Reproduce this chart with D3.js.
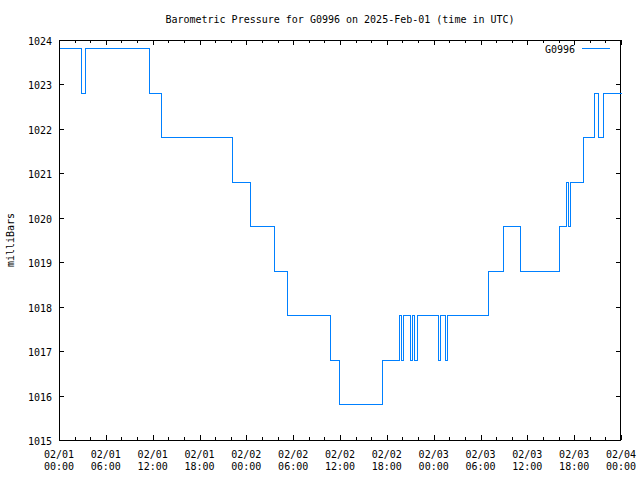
<!DOCTYPE html>
<html><head><meta charset="utf-8">
<script src="https://cdn.jsdelivr.net/npm/d3@7"></script>
<style>
body{margin:0;background:#fff;}
text{font-family:"DejaVu Sans Mono",monospace;font-size:10px;fill:#000;}
</style></head>
<body><svg id="c" width="640" height="480"></svg>
<script>
const times = ["2025-02-01T00:00","2025-02-01T02:50","2025-02-01T03:20","2025-02-01T11:35","2025-02-01T13:05",
"2025-02-01T22:10","2025-02-02T00:25","2025-02-02T03:30","2025-02-02T05:10","2025-02-02T10:45","2025-02-02T11:55",
"2025-02-02T17:25","2025-02-02T19:35","2025-02-02T19:50","2025-02-02T20:05","2025-02-02T21:00","2025-02-02T21:15",
"2025-02-02T21:25","2025-02-02T21:55","2025-02-03T00:30","2025-02-03T00:50","2025-02-03T01:30","2025-02-03T01:45",
"2025-02-03T07:00","2025-02-03T08:55","2025-02-03T11:00","2025-02-03T16:00","2025-02-03T17:00","2025-02-03T17:15",
"2025-02-03T17:30","2025-02-03T19:10","2025-02-03T20:30","2025-02-03T21:00","2025-02-03T21:45","2025-02-04T00:00"];
const pressure = [1023.8,1022.8,1023.8,1022.8,1021.8,
1020.8,1019.8,1018.8,1017.8,1016.8,1015.8,
1016.8,1017.8,1016.8,1017.8,1016.8,1017.8,
1016.8,1017.8,1016.8,1017.8,1016.8,1017.8,
1018.8,1019.8,1018.8,1019.8,1020.8,1019.8,
1020.8,1021.8,1022.8,1021.8,1022.8,1022.8];
const yTicks = [1015,1016,1017,1018,1019,1020,1021,1022,1023,1024];
const seriesName = "G0996";
const title = "Barometric Pressure for G0996 on 2025-Feb-01 (time in UTC)";
const yLabel = "milliBars";

const parse = d3.utcParse("%Y-%m-%dT%H:%M");
const data = times.map((t,i)=>({t:parse(t), v:pressure[i]}));

const L=59,R=621,T=39.5,B=440;
const svg=d3.select("#c");
const x=d3.scaleUtc().domain([parse("2025-02-01T00:00"),parse("2025-02-04T00:00")]).range([L,R]);
const y=d3.scaleLinear().domain([1015,1024]).range([B,T]);
const color="#0080ff";

svg.append("text").attr("x",340).attr("y",23).attr("text-anchor","middle").text(title);

// frame
svg.append("rect").attr("x",L+0.5).attr("y",Math.round(T)+0.5).attr("width",R-L-1).attr("height",B-Math.round(T)-0.5)
  .attr("fill","none").attr("stroke","#000").attr("stroke-width",1).attr("shape-rendering","crispEdges");

const g=svg.append("g").attr("shape-rendering","crispEdges").attr("stroke","#000");
// y ticks
yTicks.forEach(v=>{
  const yy=Math.round(y(v))+0.5;
  g.append("line").attr("x1",L).attr("x2",L+5).attr("y1",yy).attr("y2",yy);
  g.append("line").attr("x1",R-5).attr("x2",R).attr("y1",yy).attr("y2",yy);
  svg.append("text").attr("x",52).attr("y",yy+4).attr("text-anchor","end").text(v);
});
// x ticks
const minor=d3.utcHour.every(2).range(x.domain()[0],d3.utcHour.offset(x.domain()[1],1));
minor.forEach(d=>{
  const xx=Math.round(x(d))+0.5;
  const major=d.getUTCHours()%6===0;
  const len=major?5:3;
  g.append("line").attr("x1",xx).attr("x2",xx).attr("y1",B).attr("y2",B-len);
  g.append("line").attr("x1",xx).attr("x2",xx).attr("y1",T).attr("y2",T+len);
});
const fmt1=d3.utcFormat("%m/%d"), fmt2=d3.utcFormat("%H:%M");
x.ticks(d3.utcHour.every(6)).forEach(d=>{
  const xx=x(d);
  svg.append("text").attr("x",xx).attr("y",458).attr("text-anchor","middle").text(fmt1(d));
  svg.append("text").attr("x",xx).attr("y",470).attr("text-anchor","middle").text(fmt2(d));
});

svg.append("text").attr("transform","translate(14,240) rotate(-90)").attr("text-anchor","middle").text(yLabel);

// line
const line=d3.line().x(d=>Math.round(x(d.t))+0.5).y(d=>Math.round(y(d.v))+0.5).curve(d3.curveStepAfter);
svg.append("path").datum(data).attr("d",line).attr("fill","none").attr("stroke",color).attr("stroke-width",1)
  .attr("shape-rendering","crispEdges");

// legend
svg.append("text").attr("x",575).attr("y",53).attr("text-anchor","end").text(seriesName);
svg.append("line").attr("x1",582).attr("x2",610).attr("y1",48.5).attr("y2",48.5).attr("stroke",color).attr("shape-rendering","crispEdges");
</script></body></html>
